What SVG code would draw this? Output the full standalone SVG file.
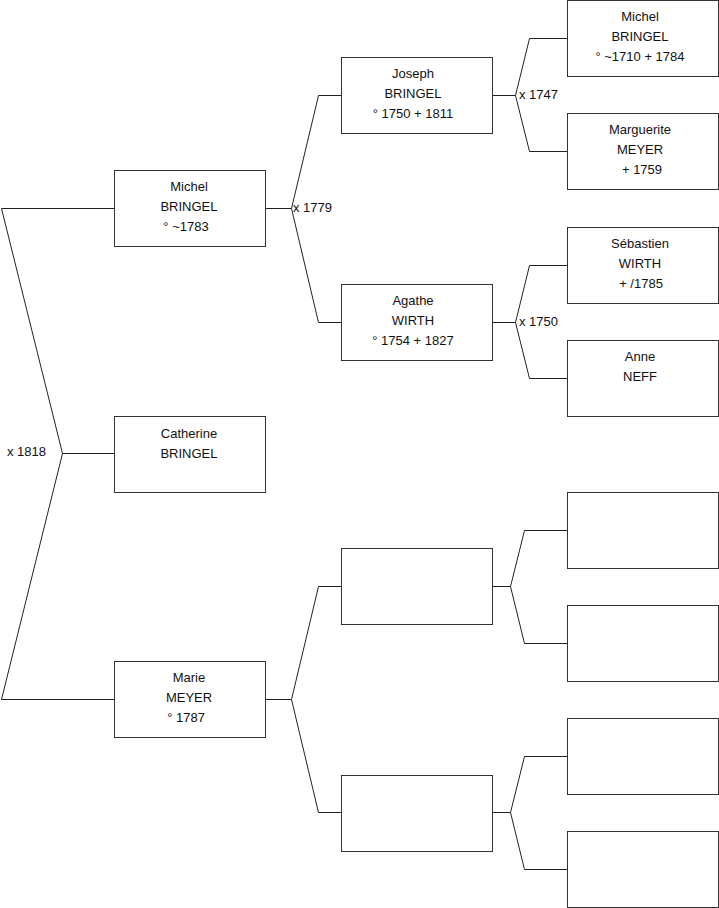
<svg xmlns="http://www.w3.org/2000/svg" width="719" height="908" viewBox="0 0 719 908">
<style>
.box{fill:#fff;stroke:#333;stroke-width:1}
.ln{fill:none;stroke:#222;stroke-width:1}
text{font-family:"Liberation Sans",Arial,sans-serif;font-size:13px;fill:#111}
.c{text-anchor:middle}
</style>
<rect width="719" height="908" fill="#fff"/>
<g id="connectors">
<polyline class="ln" points="114,208.5 1.5,208.5 62.5,453.5 1.5,699.5 114,699.5"/>
<line class="ln" x1="62.5" y1="453.5" x2="114" y2="453.5"/>
<polyline class="ln" points="341,95.5 318.5,95.5 291.5,208.5 318.5,322.5 341,322.5"/>
<line class="ln" x1="265" y1="208.5" x2="291.5" y2="208.5"/>
<polyline class="ln" points="341,586.5 318.5,586.5 291.5,699.5 318.5,812.5 341,812.5"/>
<line class="ln" x1="265" y1="699.5" x2="291.5" y2="699.5"/>
<polyline class="ln" points="567,38.5 529.5,38.5 515.5,95.5 529.5,151.5 567,151.5"/>
<line class="ln" x1="492" y1="95.5" x2="515.5" y2="95.5"/>
<polyline class="ln" points="567,265.5 529.5,265.5 515.5,322.5 529.5,378.5 567,378.5"/>
<line class="ln" x1="492" y1="322.5" x2="515.5" y2="322.5"/>
<polyline class="ln" points="567,530.5 524.5,530.5 510.5,586.5 524.5,643.5 567,643.5"/>
<line class="ln" x1="492" y1="586.5" x2="510.5" y2="586.5"/>
<polyline class="ln" points="567,756.5 524.5,756.5 510.5,812.5 524.5,869.5 567,869.5"/>
<line class="ln" x1="492" y1="812.5" x2="510.5" y2="812.5"/>
<text x="7" y="456">x 1818</text>
<text x="293" y="212">x 1779</text>
<text x="519" y="99">x 1747</text>
<text x="519" y="326">x 1750</text>
</g>
<g id="n-michel-1783">
<rect class="box" x="114.5" y="170.5" width="151" height="76"/>
<text class="c" x="189" y="191">Michel</text>
<text class="c" x="189" y="211">BRINGEL</text>
<text class="c" x="186" y="231">° ~1783</text>
</g>
<g id="n-catherine">
<rect class="box" x="114.5" y="416.5" width="151" height="76"/>
<text class="c" x="189" y="438">Catherine</text>
<text class="c" x="189" y="458">BRINGEL</text>
</g>
<g id="n-marie">
<rect class="box" x="114.5" y="661.5" width="151" height="76"/>
<text class="c" x="189" y="682">Marie</text>
<text class="c" x="189" y="702">MEYER</text>
<text class="c" x="186" y="722">° 1787</text>
</g>
<g id="n-joseph">
<rect class="box" x="341.5" y="57.5" width="151" height="76"/>
<text class="c" x="413" y="78">Joseph</text>
<text class="c" x="413" y="98">BRINGEL</text>
<text class="c" x="413" y="118">° 1750 + 1811</text>
</g>
<g id="n-agathe">
<rect class="box" x="341.5" y="284.5" width="151" height="76"/>
<text class="c" x="413" y="305">Agathe</text>
<text class="c" x="413" y="325">WIRTH</text>
<text class="c" x="413" y="345">° 1754 + 1827</text>
</g>
<g id="n-empty-f">
<rect class="box" x="341.5" y="548.5" width="151" height="76"/>
</g>
<g id="n-empty-m">
<rect class="box" x="341.5" y="775.5" width="151" height="76"/>
</g>
<g id="n-michel-1710">
<rect class="box" x="567.5" y="0.5" width="151" height="76"/>
<text class="c" x="640" y="21">Michel</text>
<text class="c" x="640" y="41">BRINGEL</text>
<text class="c" x="640" y="61">° ~1710 + 1784</text>
</g>
<g id="n-marguerite">
<rect class="box" x="567.5" y="113.5" width="151" height="76"/>
<text class="c" x="640" y="134">Marguerite</text>
<text class="c" x="640" y="154">MEYER</text>
<text class="c" x="642" y="174">+ 1759</text>
</g>
<g id="n-sebastien">
<rect class="box" x="567.5" y="227.5" width="151" height="76"/>
<text class="c" x="640" y="248">Sébastien</text>
<text class="c" x="640" y="268">WIRTH</text>
<text class="c" x="641" y="288">+ /1785</text>
</g>
<g id="n-anne">
<rect class="box" x="567.5" y="340.5" width="151" height="76"/>
<text class="c" x="640" y="361">Anne</text>
<text class="c" x="640" y="381">NEFF</text>
</g>
<g id="n-empty-1">
<rect class="box" x="567.5" y="492.5" width="151" height="76"/>
</g>
<g id="n-empty-2">
<rect class="box" x="567.5" y="605.5" width="151" height="76"/>
</g>
<g id="n-empty-3">
<rect class="box" x="567.5" y="718.5" width="151" height="76"/>
</g>
<g id="n-empty-4">
<rect class="box" x="567.5" y="831.5" width="151" height="76"/>
</g>
</svg>
